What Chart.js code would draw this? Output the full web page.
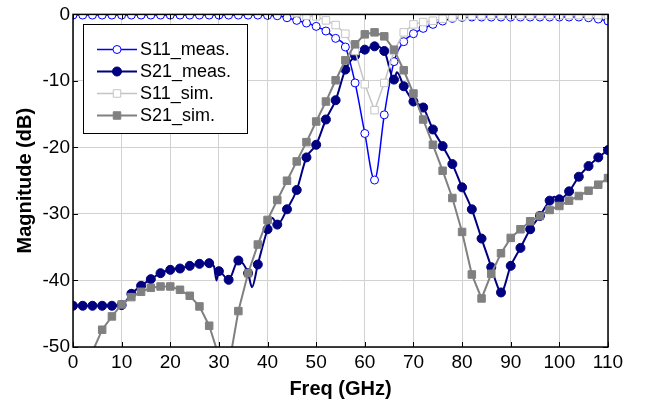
<!DOCTYPE html>
<html>
<head>
<meta charset="utf-8">
<script src="https://cdn.jsdelivr.net/npm/chart.js@4.4.1/dist/chart.umd.min.js"></script>
<style>
  html, body { margin: 0; padding: 0; background: #fff; }
  #wrap { width: 646px; height: 405px; }
</style>
</head>
<body>
<div id="wrap"><canvas id="chart" width="646" height="405"></canvas></div>
<script>
// frequency grid (GHz), every 2 GHz
const freq = [0, 2, 4, 6, 8, 10, 12, 14, 16, 18, 20, 22, 24, 26, 28, 30, 32, 34, 36, 38,
              40, 42, 44, 46, 48, 50, 52, 54, 56, 58, 60, 62, 64, 66, 68, 70, 72, 74, 76, 78,
              80, 82, 84, 86, 88, 90, 92, 94, 96, 98, 100, 102, 104, 106, 108, 110];

const s11Meas = [-0.1, -0.1, -0.1, -0.1, -0.1, -0.1, -0.1, -0.1, -0.1, -0.1,
                 -0.1, -0.1, -0.1, -0.1, -0.1, -0.1, -0.1, -0.1, -0.1, -0.1,
                 -0.15, -0.2, -0.5, -0.9, -1.3, -1.8, -2.5, -3.6, -4.9, -10.3,
                 -17.9, -24.9, -15.1, -7.1, -4.1, -2.9, -2.1, -1.5, -1.0, -0.6,
                 -0.45, -0.4, -0.4, -0.4, -0.4, -0.4, -0.4, -0.4, -0.4, -0.4,
                 -0.4, -0.4, -0.4, -0.5, -0.7, -1.0];

const s11Sim = [0.6, 0.6, 0.6, 0.6, 0.6, 0.6, 0.6, 0.6, 0.6, 0.6,
                0.6, 0.6, 0.6, 0.6, 0.6, 0.6, 0.6, 0.6, 0.6, 0.6,
                0.6, 0.6, 0.6, 0.2, -0.2, -0.3, -0.9, -1.6, -2.9, -5.5,
                -10.5, -14.4, -10.3, -5.5, -2.7, -1.5, -1.15, -0.95, -0.65, -0.45,
                -0.3, -0.2, -0.15, -0.1, -0.1, -0.1, -0.1, -0.1, -0.1, -0.1,
                -0.1, -0.1, -0.1, -0.1, -0.1, -0.1];

const s21Sim = [-62, -56, -50.7, -47.4, -45.4, -43.6, -42.5, -41.7, -41.1, -40.9,
                -40.9, -41.4, -42.3, -43.9, -46.8, -51.4, -53, -44.6, -38.9, -34.6,
                -30.9, -27.9, -25.0, -22.1, -19.2, -16.1, -13.1, -9.9, -6.9, -4.5,
                -3.0, -2.7, -3.3, -5.3, -8.4, -11.9, -15.8, -19.6, -23.5, -27.6,
                -32.7, -39.1, -42.7, -39.0, -35.9, -33.6, -32.3, -31.1, -30.3, -29.4,
                -28.8, -28.0, -27.3, -26.5, -25.6, -24.6];

// measured S21 has a few extra points between markers (wiggles)
const s21MeasFreq = [0, 2, 4, 6, 8, 10, 12, 14, 16, 18,
                     20, 22, 24, 26, 28, 29, 29.5, 30, 32, 34,
                     36, 36.8, 38, 40, 41, 42, 44, 46, 48, 50,
                     52, 54, 56, 58, 60, 62, 64, 66, 66.6, 68,
                     70, 72, 74, 76, 78, 80, 82, 84, 86, 87,
                     88, 90, 92, 94, 96, 98, 99, 100, 102, 104,
                     106, 108, 110];
const s21Meas = [-43.8, -43.8, -43.8, -43.8, -43.8, -43.7, -42.0, -40.8, -39.8, -38.9,
                 -38.4, -38.2, -37.8, -37.5, -37.4, -37.9, -40.0, -38.6, -39.9, -37.0,
                 -38.9, -41.0, -37.6, -32.3, -30.6, -31.6, -29.3, -26.4, -21.5, -19.6,
                 -15.8, -12.9, -8.3, -6.2, -5.3, -4.8, -5.5, -9.8, -8.7, -10.8,
                 -13.1, -14.0, -17.3, -19.8, -22.5, -26.0, -29.3, -33.7, -38.0, -40.3,
                 -41.8, -37.8, -35.1, -32.3, -30.3, -28.0, -27.4, -27.8, -26.6, -24.4,
                 -22.8, -21.5, -20.4];

const xTicks = [0, 10, 20, 30, 40, 50, 60, 70, 80, 90, 100, 110];
const yTicks = [-50, -40, -30, -20, -10, 0];

const FONT = '"Liberation Sans", Arial, sans-serif';
const toPoints = (xs, ys) => xs.map((x, i) => ({ x: x, y: ys[i] }));

// inward ticks on all four sides plus the black box
const framePlugin = {
    id: 'frame',
    afterDatasetsDraw(chart) {
        const { ctx, chartArea: a, scales } = chart;
        ctx.save();
        ctx.strokeStyle = '#000';
        ctx.lineWidth = 1;
        ctx.beginPath();
        xTicks.forEach(v => {
            const px = Math.round(scales.x.getPixelForValue(v)) + 0.5;
            ctx.moveTo(px, a.bottom); ctx.lineTo(px, a.bottom - 5);
            ctx.moveTo(px, a.top); ctx.lineTo(px, a.top + 5);
        });
        yTicks.forEach(v => {
            const py = Math.round(scales.y.getPixelForValue(v)) + 0.5;
            ctx.moveTo(a.left, py); ctx.lineTo(a.left + 5, py);
            ctx.moveTo(a.right, py); ctx.lineTo(a.right - 5, py);
        });
        ctx.stroke();
        ctx.lineWidth = 1.5;
        ctx.strokeRect(a.left, a.top, a.right - a.left, a.bottom - a.top);
        ctx.restore();
    }
};

// legend with line + marker samples, like the original
const legendPlugin = {
    id: 'legendBox',
    afterDraw(chart) {
        const ctx = chart.ctx;
        ctx.save();
        ctx.fillStyle = '#fff';
        ctx.fillRect(83, 24, 164, 109);
        ctx.strokeStyle = '#000';
        ctx.lineWidth = 1;
        ctx.strokeRect(83.5, 24.5, 164, 109);
        chart.data.datasets.forEach((ds, i) => {
            const y = 49.5 + i * 22;
            ctx.strokeStyle = ds.borderColor;
            ctx.lineWidth = ds.borderWidth;
            ctx.beginPath();
            ctx.moveTo(97, y);
            ctx.lineTo(137, y);
            ctx.stroke();
            ctx.fillStyle = ds.pointBackgroundColor;
            ctx.strokeStyle = ds.pointBorderColor;
            ctx.lineWidth = ds.pointBorderWidth;
            const r = typeof ds.pointRadius === 'function' ? 4.5 : ds.pointRadius;
            Chart.helpers.drawPoint(ctx, { pointStyle: ds.pointStyle, radius: r, borderWidth: ds.pointBorderWidth, rotation: 0 }, 117, y);
            ctx.fillStyle = '#000';
            ctx.font = '18px ' + FONT;
            ctx.textBaseline = 'middle';
            ctx.textAlign = 'left';
            ctx.fillText(ds.label, 140, y + 1);
        });
        ctx.restore();
    }
};

new Chart(document.getElementById('chart'), {
    type: 'line',
    data: {
        datasets: [
            {
                label: 'S11_meas.',
                data: toPoints(freq, s11Meas),
                borderColor: '#0000ff',
                borderWidth: 1.5,
                pointStyle: 'circle',
                pointRadius: 4,
                pointBorderWidth: 1,
                pointBackgroundColor: '#ffffff',
                pointBorderColor: '#0000ff',
                cubicInterpolationMode: 'monotone',
                clip: 0,
                order: 3
            },
            {
                label: 'S21_meas.',
                data: toPoints(s21MeasFreq, s21Meas),
                borderColor: '#000080',
                borderWidth: 2,
                pointStyle: 'circle',
                pointRadius: c => (s21MeasFreq[c.dataIndex] % 2 === 0 ? 4.5 : 0),
                pointBorderWidth: 1,
                pointBackgroundColor: '#000080',
                pointBorderColor: '#000080',
                cubicInterpolationMode: 'monotone',
                clip: 0,
                order: 2
            },
            {
                label: 'S11_sim.',
                data: toPoints(freq, s11Sim),
                borderColor: '#c4c4c4',
                borderWidth: 1.5,
                pointStyle: 'rect',
                pointRadius: 5.3,
                pointBorderWidth: 1,
                pointBackgroundColor: '#ffffff',
                pointBorderColor: '#c4c4c4',
                tension: 0,
                clip: 0,
                order: 1
            },
            {
                label: 'S21_sim.',
                data: toPoints(freq, s21Sim),
                borderColor: '#808080',
                borderWidth: 2,
                pointStyle: 'rect',
                pointRadius: 5.3,
                pointBorderWidth: 1,
                pointBackgroundColor: '#808080',
                pointBorderColor: '#808080',
                tension: 0,
                clip: 0,
                order: 0
            }
        ]
    },
    options: {
        responsive: false,
        devicePixelRatio: 1,
        animation: false,
        events: [],
        layout: { padding: { left: 0, right: 38, top: 13, bottom: 0 } },
        plugins: {
            legend: { display: false },
            tooltip: { enabled: false }
        },
        scales: {
            x: {
                type: 'linear',
                min: 0,
                max: 110,
                afterBuildTicks: s => { s.ticks = xTicks.map(v => ({ value: v })); },
                afterFit: s => { s.height = 58; },
                ticks: { color: '#000', padding: 4, font: { family: FONT, size: 19 } },
                grid: { color: '#d2d2d2', lineWidth: 1, drawTicks: false },
                border: { display: false },
                title: {
                    display: true,
                    text: 'Freq (GHz)',
                    color: '#000',
                    font: { family: FONT, size: 20, weight: 'bold' },
                    padding: { top: 0, bottom: 4 }
                }
            },
            y: {
                type: 'linear',
                min: -50,
                max: 0,
                afterBuildTicks: s => { s.ticks = yTicks.map(v => ({ value: v })); },
                afterFit: s => { s.width = 73; },
                ticks: { color: '#000', padding: 3, font: { family: FONT, size: 19 } },
                grid: { color: '#d2d2d2', lineWidth: 1, drawTicks: false },
                border: { display: false },
                title: {
                    display: true,
                    text: 'Magnitude (dB)',
                    color: '#000',
                    font: { family: FONT, size: 20, weight: 'bold' },
                    padding: { top: 13, bottom: 0 }
                }
            }
        }
    },
    plugins: [framePlugin, legendPlugin]
});
</script>
</body>
</html>
